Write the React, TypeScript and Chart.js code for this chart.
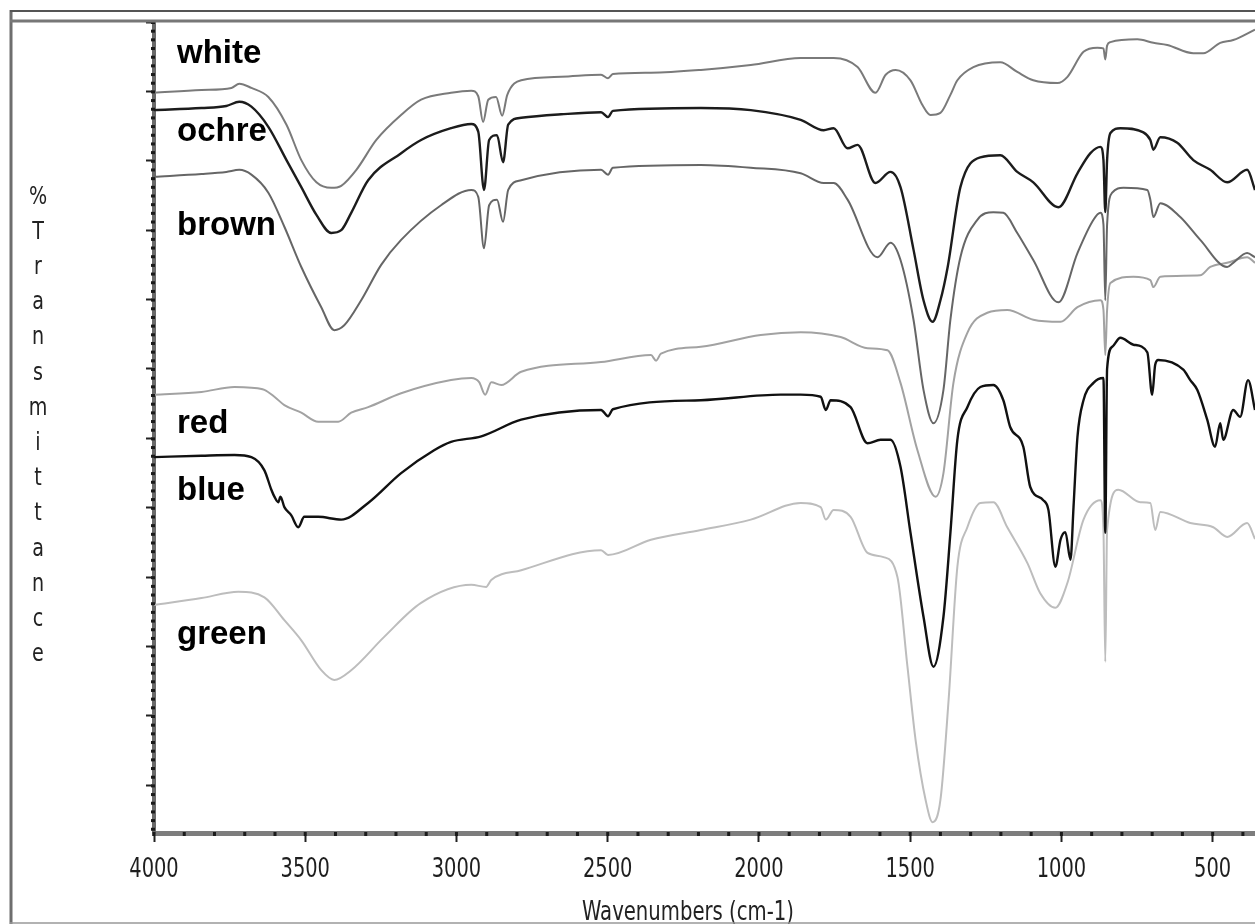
import React, { useEffect, useRef } from "react";
import { Chart, registerables } from "chart.js";

Chart.register(...registerables);

// ---- data (wavenumber cm-1, %T in arbitrary offset units) ----
const whiteWn = [4000,3843,3744,3718,3678,3622,3562,3513,3463,3414,3381,3331,3265,3183,3117,3018,2951,2928,2912,2895,2869,2849,2832,2786,2654,2522,2499,2483,2357,2192,2027,1862,1753,1674,1615,1581,1548,1499,1459,1433,1400,1367,1344,1291,1202,1146,1093,1013,980,927,881,861,855,849,838,749,696,650,564,531,475,432,360];
const whiteT = [109.8,110.2,110.5,111.1,110.5,109.2,105.2,100.1,96.9,96.1,96.4,98.7,103.0,106.6,108.8,109.8,110.1,109.3,105.6,108.8,109.2,106.5,109.5,111.6,112.1,112.4,111.9,112.5,112.7,113.1,113.8,114.8,114.8,113.5,109.8,112.4,113.1,111.6,108.0,106.6,106.9,109.5,111.6,113.5,114.2,112.8,111.6,111.2,112.1,115.7,116.3,116.2,114.6,116.6,117.1,117.5,117.0,116.7,115.5,115.5,117.0,117.4,118.9];

const ochreWn = [4000,3843,3761,3718,3678,3622,3562,3513,3463,3414,3381,3348,3292,3183,3117,3018,2951,2928,2909,2892,2866,2846,2829,2786,2654,2522,2499,2483,2192,2027,1862,1786,1753,1707,1674,1615,1565,1532,1489,1456,1426,1400,1376,1334,1268,1202,1146,1093,1010,947,904,871,861,855,849,838,805,729,706,696,673,617,564,508,452,386,360];
const ochreT = [107.3,107.6,107.9,108.5,107.8,104.9,100.1,96.2,92.2,89.6,90.0,92.5,97.2,101.1,103.0,104.7,105.3,104.2,95.8,103.0,103.7,99.8,105.2,106.2,106.7,107.0,106.3,107.2,107.6,107.3,105.9,104.4,104.7,101.8,102.3,96.8,98.4,96.2,87.2,79.9,76.8,79.9,84.7,96.2,100.5,100.8,98.4,96.9,93.3,98.2,101.1,102.0,100.1,92.6,100.1,104.0,104.7,104.1,103.0,101.6,103.4,102.6,100.1,98.7,96.9,98.7,95.8];

const brownWn = [4000,3843,3761,3718,3678,3622,3569,3513,3447,3404,3371,3315,3249,3183,3051,2951,2928,2909,2892,2866,2846,2829,2786,2522,2499,2483,2192,2027,1862,1786,1753,1707,1608,1565,1532,1489,1456,1423,1390,1367,1334,1278,1225,1192,1146,1093,1010,947,894,871,861,855,849,832,795,716,706,696,673,607,541,452,432,386,360];
const brownT = [97.7,98.1,98.4,98.7,98.0,95.4,90.5,84.7,78.9,75.6,76.3,79.9,85.0,88.6,93.6,95.8,94.8,87.4,93.6,94.4,91.2,95.8,97.2,98.7,98.0,99.0,99.4,99.0,98.2,96.8,96.8,94.4,86.1,88.2,85.7,77.1,67.0,62.2,67.0,77.1,86.1,91.5,92.6,92.5,89.6,85.7,79.6,86.7,91.5,92.5,90.8,79.9,90.8,95.4,96.1,95.8,94.4,91.9,93.9,91.9,88.6,84.7,85.3,86.7,86.1];

const redWn = [4000,3843,3734,3678,3635,3602,3569,3513,3457,3391,3348,3292,3183,3018,2951,2925,2905,2885,2852,2786,2522,2357,2340,2324,2192,1994,1862,1730,1641,1575,1532,1476,1416,1390,1357,1311,1245,1179,1093,1003,947,871,861,855,849,838,762,706,696,673,541,508,452,386,360];
const redT = [66.3,66.7,67.4,67.3,67.0,66.0,64.8,63.7,62.4,62.4,63.7,64.5,66.5,68.4,68.7,68.1,66.3,68.1,67.7,69.6,71.0,72.0,71.2,72.2,73.2,74.9,75.3,74.6,73.0,72.7,68.0,58.3,51.6,55.0,68.0,75.2,78.1,78.5,77.1,76.8,78.9,79.9,78.5,72.0,78.5,82.4,83.3,82.8,81.8,83.3,83.5,84.7,85.3,86.1,85.3];

const blueWn = [4000,3843,3734,3678,3635,3612,3602,3589,3582,3569,3546,3523,3503,3457,3381,3292,3183,3074,3018,2918,2786,2522,2499,2483,2192,1928,1862,1796,1779,1763,1697,1641,1598,1565,1532,1499,1456,1423,1390,1367,1344,1311,1268,1225,1192,1169,1126,1103,1060,1043,1020,1003,987,970,960,947,927,894,861,855,849,832,805,762,716,700,690,680,597,574,551,518,492,475,465,432,409,383,360];
const blueT = [57.3,57.5,57.6,57.3,55.4,52.6,51.6,50.8,51.6,50.1,48.9,47.2,48.7,48.7,48.3,50.7,55.0,58.3,59.5,60.3,62.7,64.1,63.2,64.2,65.5,66.3,66.3,66.0,64.1,65.5,64.5,59.3,59.8,59.8,55.9,46.4,34.3,27.1,34.3,46.4,59.8,64.5,67.4,67.7,65.5,61.6,58.8,53.0,51.1,49.7,41.5,45.4,46.5,42.5,50.1,60.2,65.5,68.0,68.7,46.4,70.0,73.2,74.5,73.5,72.4,66.3,70.6,71.3,69.9,68.4,67.0,62.7,58.8,62.2,59.8,64.1,63.1,68.4,64.1];

const greenWn = [4000,3843,3721,3635,3569,3513,3447,3404,3348,3239,3117,2951,2902,2885,2786,2522,2499,2357,2192,2027,1862,1796,1779,1753,1697,1641,1588,1542,1509,1482,1449,1426,1400,1373,1344,1311,1268,1225,1179,1112,1070,1020,980,927,871,861,855,849,812,739,706,690,673,574,498,452,386,360];
const greenT = [36.0,37.0,37.9,37.1,33.8,30.9,26.6,25.2,26.6,31.4,36.3,38.9,38.6,39.6,41.0,43.9,43.2,45.4,46.8,48.3,50.7,50.1,48.3,49.7,48.7,43.5,42.9,40.0,27.1,16.5,7.9,4.7,7.9,22.3,41.5,47.2,50.7,50.8,47.2,42.0,37.7,35.6,39.2,48.3,51.1,46.8,27.8,46.8,52.6,50.8,50.7,46.8,49.4,47.8,47.2,45.8,47.8,45.5];

const seriesNames = ["white", "ochre", "brown", "red", "blue", "green"];
const labelBaselineT = [114.1, 102.8, 89.3, 60.8, 51.1, 30.4];
const labelWn = 3924;
const xTickValues = [4000, 3500, 3000, 2500, 2000, 1500, 1000, 500];
const yTickValues = [120, 110, 100, 90, 80, 70, 60, 50, 40, 30, 20, 10];
const xMinorStep = 100;
const yMinorStep = 1.25;
const yTitle = "%Transmittance";
const xTitle = "Wavenumbers (cm-1)";

const NARROW = "'DejaVu Sans Condensed', 'Liberation Sans Narrow', sans-serif";

const styles = [
  { color: "#7a7a7a", width: 2 },
  { color: "#1c1c1c", width: 2.4 },
  { color: "#666666", width: 2 },
  { color: "#a2a2a2", width: 2 },
  { color: "#111111", width: 2.4 },
  { color: "#bdbdbd", width: 2 },
];

const toPts = (wn: number[], t: number[]) => wn.map((w, i) => ({ x: w, y: t[i] }));

function narrowText(ctx: any, text: string, cx: number, cy: number, size: number, sx: number, baseline: string) {
  ctx.save();
  ctx.translate(cx, cy);
  ctx.scale(sx, 1);
  ctx.font = `${size}px ${NARROW}`;
  ctx.textAlign = "center";
  ctx.textBaseline = baseline;
  ctx.fillText(text, 0, 0);
  ctx.restore();
}

const decor = {
  id: "decor",
  beforeDraw(chart: any) {
    const { ctx } = chart;
    ctx.save();
    ctx.fillStyle = "#ffffff";
    ctx.fillRect(0, 0, chart.width, chart.height);
    ctx.restore();
  },
  afterDraw(chart: any) {
    const { ctx, chartArea, scales } = chart;
    const x = scales.x;
    const y = scales.y;
    ctx.save();
    // minor ticks on x axis
    ctx.fillStyle = "#1a1a1a";
    for (let w = 4000; w >= x.min; w -= xMinorStep) {
      const px = x.getPixelForValue(w);
      ctx.fillRect(px - 1.5, chartArea.bottom - 1, 3, 4);
    }
    // minor ticks on y axis
    for (let v = y.max; v >= y.min; v -= yMinorStep) {
      const py = y.getPixelForValue(v);
      ctx.fillRect(chartArea.left - 3, py - 1, 4, 3);
    }
    // x tick labels
    ctx.fillStyle = "#1e1e1e";
    xTickValues.forEach((v) => {
      narrowText(ctx, String(v), x.getPixelForValue(v), 877, 27, 0.8, "alphabetic");
    });
    // series labels
    ctx.fillStyle = "#000";
    ctx.font = "bold 33px 'Liberation Sans', Arial, sans-serif";
    ctx.textAlign = "left";
    ctx.textBaseline = "alphabetic";
    const lx = x.getPixelForValue(labelWn);
    seriesNames.forEach((n, i) => {
      ctx.fillText(n, lx, y.getPixelForValue(labelBaselineT[i]));
    });
    // y title, stacked letters
    ctx.fillStyle = "#222";
    Array.from(yTitle).forEach((ch, i) => {
      narrowText(ctx, ch, 38, 197 + i * 35.2, 25, 0.85, "middle");
    });
    // x title
    narrowText(ctx, xTitle, 688, 913, 26, 0.84, "middle");
    // frame
    ctx.strokeStyle = "#6e6e6e";
    ctx.lineWidth = 3;
    ctx.beginPath();
    ctx.moveTo(11, 10);
    ctx.lineTo(11, chart.height);
    ctx.stroke();
    ctx.strokeStyle = "#555";
    ctx.lineWidth = 2;
    ctx.beginPath();
    ctx.moveTo(10, 11);
    ctx.lineTo(chart.width, 11);
    ctx.stroke();
    ctx.strokeStyle = "#777";
    ctx.lineWidth = 3;
    ctx.beginPath();
    ctx.moveTo(10, 21);
    ctx.lineTo(chart.width, 21);
    ctx.stroke();
    ctx.strokeStyle = "#999";
    ctx.lineWidth = 1.5;
    ctx.beginPath();
    ctx.moveTo(10, 923);
    ctx.lineTo(chart.width, 923);
    ctx.stroke();
    ctx.restore();
  },
};

export default function App() {
  const ref = useRef<HTMLCanvasElement | null>(null);
  useEffect(() => {
    if (!ref.current) return;
    const series = [
      toPts(whiteWn, whiteT),
      toPts(ochreWn, ochreT),
      toPts(brownWn, brownT),
      toPts(redWn, redT),
      toPts(blueWn, blueT),
      toPts(greenWn, greenT),
    ];
    const chart = new Chart(ref.current, {
      type: "line",
      data: {
        datasets: series.map((d, i) => ({
          label: seriesNames[i],
          data: d,
          borderColor: styles[i].color,
          borderWidth: styles[i].width,
          pointRadius: 0,
          fill: false,
          cubicInterpolationMode: "monotone" as const,
        })),
      },
      options: {
        animation: false,
        responsive: true,
        maintainAspectRatio: false,
        parsing: false as any,
        layout: { padding: { top: 22, right: 0, left: 0, bottom: 0 } },
        plugins: { legend: { display: false }, tooltip: { enabled: false }, title: { display: false } },
        scales: {
          x: {
            type: "linear",
            reverse: true,
            min: 360,
            max: 4000,
            afterFit: (s: any) => { s.height = 91; },
            afterBuildTicks: (s: any) => { s.ticks = xTickValues.map((v) => ({ value: v })); },
            border: { display: true, color: "#7d7d7d", width: 5 },
            grid: { drawOnChartArea: false, drawTicks: true, tickLength: 9, tickColor: "#222", tickWidth: 2 },
            ticks: { display: false, autoSkip: false, maxRotation: 0 },
          },
          y: {
            type: "linear",
            min: 3.14,
            max: 120,
            afterFit: (s: any) => { s.width = 154; },
            afterBuildTicks: (s: any) => { s.ticks = yTickValues.map((v) => ({ value: v })); },
            border: { display: true, color: "#6a6a6a", width: 4 },
            grid: { drawOnChartArea: false, drawTicks: true, tickLength: 8, tickColor: "#222", tickWidth: 2 },
            ticks: { display: false },
          },
        },
      },
      plugins: [decor],
    });
    return () => chart.destroy();
  }, []);
  return (
    <div style={{ position: "fixed", left: 0, top: 0, width: 1255, height: 924, background: "#fff" }}>
      <canvas ref={ref} />
    </div>
  );
}
